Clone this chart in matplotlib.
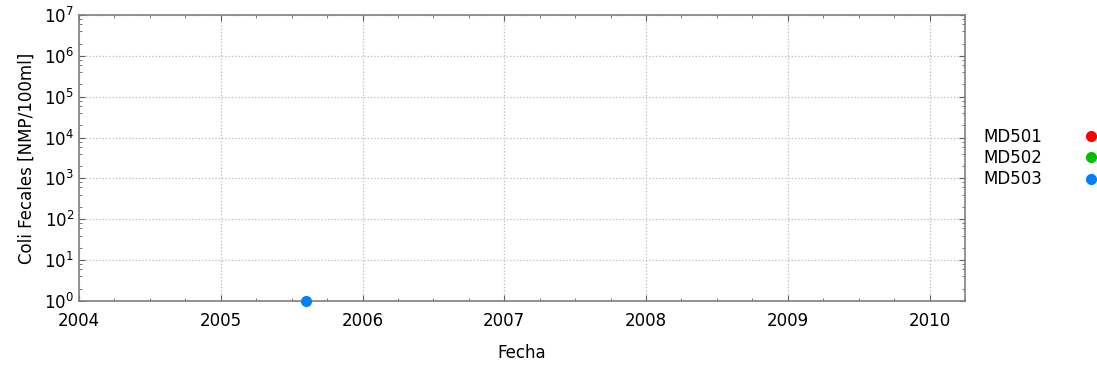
import matplotlib
matplotlib.use("Agg")
import matplotlib.pyplot as plt
from matplotlib.lines import Line2D
from matplotlib.ticker import LogLocator, MultipleLocator, FormatStrFormatter

# decimal years / NMP per 100 ml
stations = ["MD501", "MD502", "MD503"]
colors = ["#ff0000", "#00c000", "#0080ff"]
fechas = [[], [], [2005.6]]
coli = [[], [], [1]]

fig = plt.figure(figsize=(10.97, 3.72), dpi=100)
ax = fig.add_axes([79 / 1097, 1 - 301 / 372, (965 - 79) / 1097, (301 - 15) / 372])

handles = []
for name, c, x, y in zip(stations, colors, fechas, coli):
    ax.plot(x, y, "o", color=c, markersize=7, clip_on=False, zorder=5)
    handles.append(Line2D([], [], linestyle="none", marker="o", color=c,
                          markersize=7, label=name))

ax.set_yscale("log")
ax.set_ylim(1, 1e7)
ax.set_xlim(2004, 2010.25)
ax.xaxis.set_major_locator(MultipleLocator(1))
ax.xaxis.set_minor_locator(MultipleLocator(0.25))
ax.yaxis.set_major_locator(LogLocator(base=10, numticks=10))
ax.yaxis.set_minor_locator(LogLocator(base=10, subs=(2, 4, 6, 8), numticks=10))
ax.xaxis.set_major_formatter(FormatStrFormatter("%d"))

ax.grid(True, which="major", linestyle=":", color="#bbbbbb", linewidth=0.9)
for s in ax.spines.values():
    s.set_color("#808080")
    s.set_linewidth(1.2)
ax.tick_params(which="both", direction="in", top=True, right=True, color="#606060", labelsize=12)
ax.tick_params(which="major", length=4)
ax.tick_params(which="minor", length=2)
ax.tick_params(axis="x", pad=8)

ax.set_xlabel("Fecha", fontsize=12, labelpad=10)
ax.set_ylabel("Coli Fecales [NMP/100ml]", fontsize=12, labelpad=6)

ax.legend(handles=handles, loc="center left", bbox_to_anchor=(1.004, 0.5), frameon=False,
          markerfirst=False, fontsize=12, handlelength=1.0, handletextpad=2.4,
          labelspacing=0.2, numpoints=1)

fig.savefig("out.png", dpi=100)
